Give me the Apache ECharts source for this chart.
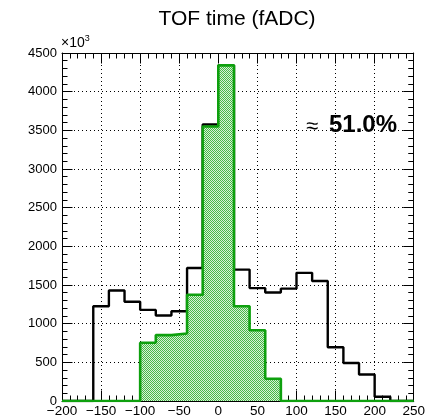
<!DOCTYPE html>
<html><head><meta charset="utf-8">
<script src="https://cdn.jsdelivr.net/npm/echarts@6/dist/echarts.min.js"></script>
<style>html,body{margin:0;padding:0;background:#fff}#c{width:428px;height:418px}</style>
</head><body><div id="c"></div>
<script>
// ---- data ----
const titleText = 'TOF time (fADC)';
const binWidth = 20;
const xMin = -200, xMax = 250, xStep = 50;
const yMin = 0, yMax = 4500, yStep = 500;
const yScaleLabel = '×10';
const yScaleExp = '3';
const fractionLabel = '51.0%';
// all events (black)
const allStarts = [-160,-140,-120,-100,-80,-60,-40,-20,0,20,40,60,80,100,120,140,160,180,200];
const allCounts = [1225,1428,1284,1178,1106,1161,1720,3575,4340,1699,1460,1403,1453,1657,1551,695,492,343,55];
// selected events (green)
const selStarts = [-100,-80,-60,-40,-20,0,20,40,60];
const selCounts = [754,852,873,1373,3550,4340,1225,915,288];

function steps(starts, counts){
  const d = [[xMin, 0]];
  starts.forEach((s, i) => d.push([s, counts[i]]));
  d.push([starts[starts.length - 1] + binWidth, 0]);
  d.push([xMax, 0]);
  return d;
}

// hatch pattern like ROOT fill style
const pc = document.createElement('canvas'); pc.width = 2; pc.height = 2;
const g = pc.getContext('2d');
g.fillStyle = '#d6f0d6'; g.fillRect(0, 0, 2, 2);
g.fillStyle = '#46b846'; g.fillRect(0, 0, 1, 1); g.fillRect(1, 1, 1, 1);

const FONT = '"Liberation Sans", Arial, Helvetica, sans-serif';
const lineBlack = '#000';
const gridLine = {show: true, lineStyle: {color: '#000', width: 1, type: [1, 3]}};

function axis(extra){
  return Object.assign({
    type: 'value',
    axisLine: {show: true, onZero: false, lineStyle: {color: lineBlack, width: 1}},
    axisTick: {show: true, inside: true, length: 10.5, lineStyle: {color: lineBlack, width: 1}},
    minorTick: {show: true, splitNumber: 5, length: 5.5, lineStyle: {color: lineBlack, width: 1}},
    splitLine: {show: false}
  }, extra);
}

const chart = echarts.init(document.getElementById('c'), null, {renderer: 'canvas'});
chart.setOption({
  animation: false,
  backgroundColor: '#fff',
  grid: {left: 62, right: 11, top: 53, bottom: 16, containLabel: false},
  xAxis: [
    axis({position: 'bottom', min: xMin, max: xMax, interval: xStep,
      splitLine: gridLine,
      axisLabel: {show: true, margin: 3, color: '#000', fontFamily: FONT, fontSize: 13.5,
        formatter: v => String(v).replace('-', '\u2212')}}),
    axis({position: 'top', min: xMin, max: xMax, interval: xStep, axisLabel: {show: false}})
  ],
  yAxis: [
    axis({position: 'left', min: yMin, max: yMax, interval: yStep,
      splitLine: gridLine,
      axisLabel: {show: true, margin: 5, color: '#000', fontFamily: FONT, fontSize: 13,
        formatter: v => String(v)}}),
    axis({position: 'right', min: yMin, max: yMax, interval: yStep, axisLabel: {show: false}})
  ],
  series: [
    {type: 'line', name: 'all', xAxisIndex: 0, yAxisIndex: 0, step: 'end', symbol: 'none',
      data: steps(allStarts, allCounts),
      lineStyle: {color: '#000', width: 2.4}, z: 3},
    {type: 'line', name: 'selected', xAxisIndex: 0, yAxisIndex: 0, step: 'end', symbol: 'none',
      data: steps(selStarts, selCounts),
      lineStyle: {color: '#0ea00e', width: 2.6},
      areaStyle: {color: {image: pc, repeat: 'repeat'}, opacity: 1}, z: 4}
  ],
  graphic: [
    {type: 'text', x: 237, y: 19, z: 10, style: {text: titleText, font: '21px ' + FONT, fill: '#000',
      textAlign: 'center', textVerticalAlign: 'middle'}},
    {type: 'text', x: 61, y: 43, z: 10, style: {
      text: '{a|' + yScaleLabel + '}{b|' + yScaleExp + '}',
      textVerticalAlign: 'middle', textAlign: 'left',
      rich: {a: {fontFamily: FONT, fontSize: 14, color: '#000'},
             b: {fontFamily: FONT, fontSize: 9, color: '#000', verticalAlign: 'top', padding: [0,0,8,0]}}}},
    {type: 'text', x: 306, y: 127, z: 10, style: {text: '\u2248', font: '22px ' + FONT, fill: '#000',
      textAlign: 'left', textVerticalAlign: 'middle'}},
    {type: 'text', x: 329, y: 125, z: 10, style: {text: fractionLabel, font: 'bold 24px ' + FONT, fill: '#000',
      textAlign: 'left', textVerticalAlign: 'middle'}}
  ]
});
</script>
</body></html>
